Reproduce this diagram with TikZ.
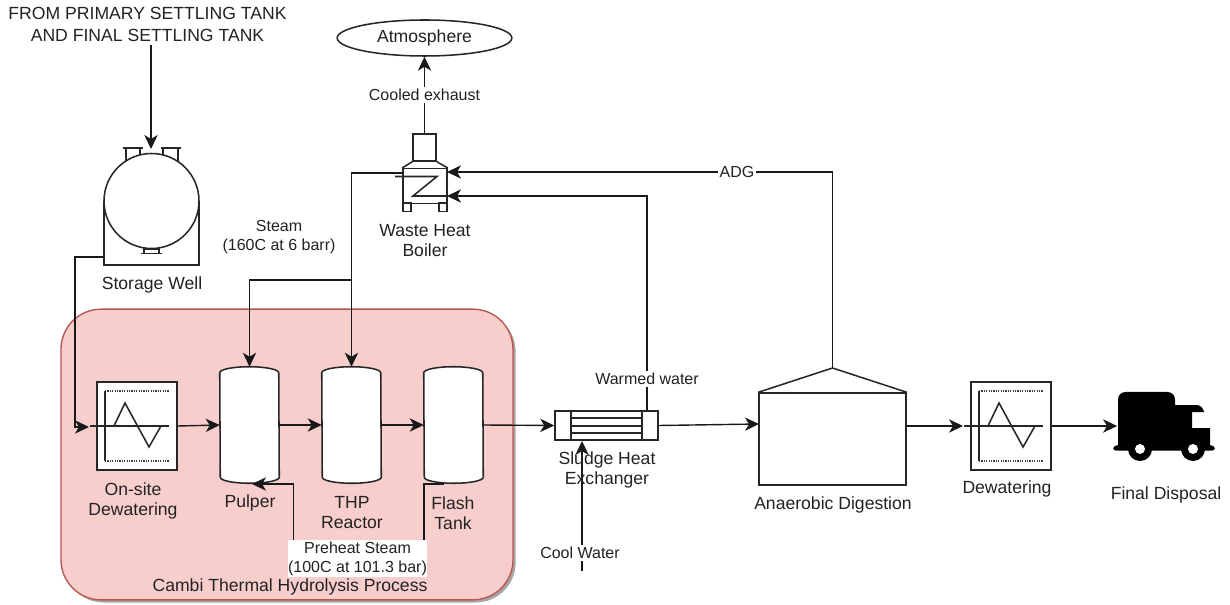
\documentclass[tikz,border=0pt]{standalone}
\usepackage{fontspec}
\setmainfont{Liberation Sans}
\usetikzlibrary{arrows.meta,shadows,positioning,shapes.geometric}
\definecolor{procfill}{HTML}{F8CECC}
\definecolor{procline}{HTML}{B85450}
\definecolor{txt}{HTML}{222222}
\newcommand{\TankShape}[2]{%
  \node[tanknode] (#1) at (#2,425) {};
  \draw[equip,fill=white] ([yshift=-4.5pt]#1.north west)
     arc[start angle=180,end angle=0,x radius=22.125pt,y radius=4.5pt]
     -- ([yshift=4.5pt]#1.south east)
     arc[start angle=0,end angle=-180,x radius=22.125pt,y radius=4.5pt]
     -- cycle;
}
\newcommand{\DewaterShape}[2]{%
  \node[dewbox] (#1) at (#2,426) {};
  \begin{scope}[shift={(#1.center)}]
    \draw[equip] (-32,-35) -- (-32,35);
    \draw[dotline] (-32,-35) -- (32,-35);
    \draw[dotline] (-32,35) -- (32,35);
    \draw[equip] (-47,0) -- (32,0);
    \draw[equip] (-23,0) -- (-12,-23) -- (12,21) -- (24,0);
  \end{scope}
}
\tikzset{
  equip/.style={line width=1.15pt,draw=black!85},
  dotline/.style={line width=1.1pt,draw=black!75,dash pattern=on 0.9pt off 0.9pt},
  flow/.style={line width=1.05pt,draw=black!90,-{Stealth[length=10.5pt,width=10pt,inset=3pt]}},
  pipe/.style={line width=1.05pt,draw=black!90},
  tanknode/.style={rectangle,draw=none,inner sep=0pt,minimum width=44.25pt,minimum height=87pt},
  dewbox/.style={rectangle,draw=black!85,line width=1.15pt,fill=white,inner sep=0pt,minimum width=60pt,minimum height=66pt},
  lab/.style={text=txt,font=\fontsize{12}{14.25}\selectfont,align=center,inner sep=0.5pt},
  biglab/.style={text=txt,font=\fontsize{13.2}{15}\selectfont,align=center,inner sep=0.5pt},
  wlab/.style={lab,fill=white,inner sep=1.5pt},
}
\begin{document}
\begin{tikzpicture}[x=0.75pt,y=-0.75pt]
\useasboundingbox (0,0) rectangle (1230,605);
% process region
\node[rectangle,rounded corners=30pt,draw=procline,fill=procfill,line width=1pt,
  minimum width=339pt,minimum height=218pt,inner sep=0pt,
  drop shadow={shadow xshift=2pt,shadow yshift=-2pt,fill=black,opacity=0.35}] (region) at (287,454.5) {};

% storage well
\coordinate (wellC) at (151.5,201);
\node[rectangle,draw=none,minimum width=71.25pt,minimum height=70.5pt,inner sep=0pt] (well) at (151.5,201) {};
\draw[equip] (126,161) -- (126,148) (140,155) -- (140,148) (123,148) -- (143,148);
\draw[equip] (163,155) -- (163,148) (178,161) -- (178,148) (161,148) -- (181,148);
\draw[equip] (144,248) -- (144,253) (159,248) -- (159,253) (141,253.5) -- (162,253.5) (144,249.5) -- (159,249.5);
\draw[equip] (104,201) -- (104,265) -- (199,265) -- (199,201);
\draw[equip] (wellC) circle[radius=47.5];
\coordinate (wellOut) at (104,257);
\coordinate (topIn) at (151,45);
\coordinate (topTip) at (151,149);

% equipment
\DewaterShape{dewA}{137}
\TankShape{pulper}{249.5}
\TankShape{thp}{351.5}
\TankShape{flash}{453.5}

% heat exchanger
\node[rectangle,draw=black!85,line width=1.15pt,fill=white,minimum width=77.25pt,minimum height=22pt,inner sep=0pt] (hx) at (606.5,425.5) {};
\draw[equip] (571,411) -- (571,440) (642,411) -- (642,440)
  (571,418) -- (642,418) (571,426) -- (642,426) (571,433) -- (642,433);

% digester
\node[rectangle,draw=black!85,line width=1.15pt,minimum width=110pt,minimum height=69pt,inner sep=0pt] (dig) at (832.5,439) {};
\coordinate (digTop) at (832.5,368);
\draw[equip] (dig.north west) -- (digTop) -- (dig.north east);

\DewaterShape{dewB}{1011}

% boiler
\node[rectangle,draw=black!85,line width=1.15pt,minimum width=33pt,minimum height=26pt,inner sep=0pt] (boiler) at (425,186) {};
\node[rectangle,draw=black!85,line width=1.15pt,minimum width=17.25pt,minimum height=20.25pt,inner sep=0pt] (stack) at (424.5,147.5) {};
\draw[equip] (boiler.north west) -- (stack.south west) (boiler.north east) -- (stack.south east);
\draw[equip] (403,203) rectangle (411,211.5) (439,203) rectangle (447,211.5);
\draw[equip] (395,176.5) -- (437,176.5) -- (413,196) -- (447,196);

% atmosphere
\node[ellipse,draw=black!85,line width=1.15pt,minimum width=131pt,minimum height=27pt,inner sep=0pt] (atm) at (424.5,38) {};

% truck
\node[rectangle,draw=none,minimum width=73pt,minimum height=46pt,inner sep=0pt] (truck) at (1166,423) {};
\fill[black] (1118,400) .. controls (1118,395) and (1121,392) .. (1126,392) -- (1167,392) .. controls (1172,392) and (1175,395) .. (1175,400)
  -- (1175,405) -- (1196,405) .. controls (1201,405) and (1203,408) .. (1204,412) -- (1192,412) -- (1192,428) -- (1210,428) -- (1210,445)
  .. controls (1216,446) and (1216,450.5) .. (1212,450.5) -- (1116,450.5) .. controls (1112,450.5) and (1112,446) .. (1118,445) -- cycle;
\fill[black] (1140,449) circle[radius=12] (1193,449) circle[radius=12];
\fill[white] (1140,449) circle[radius=5] (1193,449) circle[radius=5];

% connectors
\draw[flow] (topIn) -- (topTip);
\coordinate (dewAIn) at (89,427);
\draw[pipe] (wellOut) -- (75,257) -- (75,427) -- (80,427);
\draw[flow] (75,427) -- (dewAIn);
\draw[flow] (dewA.east) -- (pulper.west);
\draw[flow] (pulper.east) -- (thp.west);
\draw[flow] (thp.east) -- (flash.west);
\draw[flow] (flash.east) -- (hx.west);
\coordinate (digIn) at (759,424);
\draw[flow] (hx.east) -- (digIn);
\coordinate (dewBIn) at (963,426);
\draw[flow] (dig.east |- dewBIn) -- (dewBIn);
\draw[flow] (dewB.east) -- (truck.west |- dewB.east);

\coordinate (steamOut) at (403,173);
\coordinate (steamJoin) at (351.5,280);
\draw[flow] (steamOut) -| (thp.north);
\draw[flow] (steamJoin) -| (pulper.north);
\coordinate (adgIn) at (447,172);
\draw[flow] (digTop) |- (adgIn);
\coordinate (wwOut) at (647,411);
\coordinate (wwIn) at (447,196);
\draw[flow] (wwOut) |- (wwIn);
\draw[flow] (stack.north) -- (atm.south);

\coordinate (coolStart) at (582,571);
\coordinate (coolTip) at (582,441);
\draw[flow] (coolStart) -- (coolTip);

\coordinate (preA) at (293.5,545);
\coordinate (preB) at (424,545);
\coordinate (pulperBot) at (252,484);
\coordinate (flashBot) at (444,484);
\draw[flow] (preA) |- (pulperBot);
\draw[pipe] (preB) |- (flashBot);

% labels
\node[biglab,font=\fontsize{13.2}{16.5}\selectfont] (topT) at (147.5,24) {FROM PRIMARY SETTLING TANK\\AND FINAL SETTLING TANK};
\node[biglab] (atmT) at (424.5,37.5) {Atmosphere};
\node[wlab] (coolT) at (424.5,95) {Cooled exhaust};
\node[biglab] (wellT) at (152,285) {Storage Well};
\node[lab] (steamT) at (279,237.5) {Steam\\(160C at 6 barr)};
\node[biglab] (boilerT) at (425,241) {Waste Heat\\Boiler};
\node[wlab] (adgT) at (737,172) {ADG};
\node[wlab] (wwT) at (647,379) {Warmed water};
\node[biglab] (dewAT) at (133,501) {On-site\\Dewatering};
\node[biglab] (pulperT) at (250,503) {Pulper};
\node[biglab] (thpT) at (352,513) {THP\\Reactor};
\node[biglab] (flashT) at (453,513) {Flash\\Tank};
\node[biglab] (hxT) at (607,470) {Sludge Heat\\Exchanger};
\node[biglab] (digT) at (833,505) {Anaerobic Digestion};
\node[biglab] (dewBT) at (1007,489) {Dewatering};
\node[biglab] (truckT) at (1166,495) {Final Disposal};
\node[wlab] (cwT) at (580,553) {Cool Water};
\node[rectangle,fill=white,minimum width=104pt,minimum height=27.75pt,inner sep=0pt,text=txt,align=center,font=\fontsize{12}{14.25}\selectfont] (preT) at (357.5,558.5) {Preheat Steam\\(100C at 101.3 bar)};
\node[biglab] (regionT) at (290,587) {Cambi Thermal Hydrolysis Process};
\end{tikzpicture}
\end{document}
